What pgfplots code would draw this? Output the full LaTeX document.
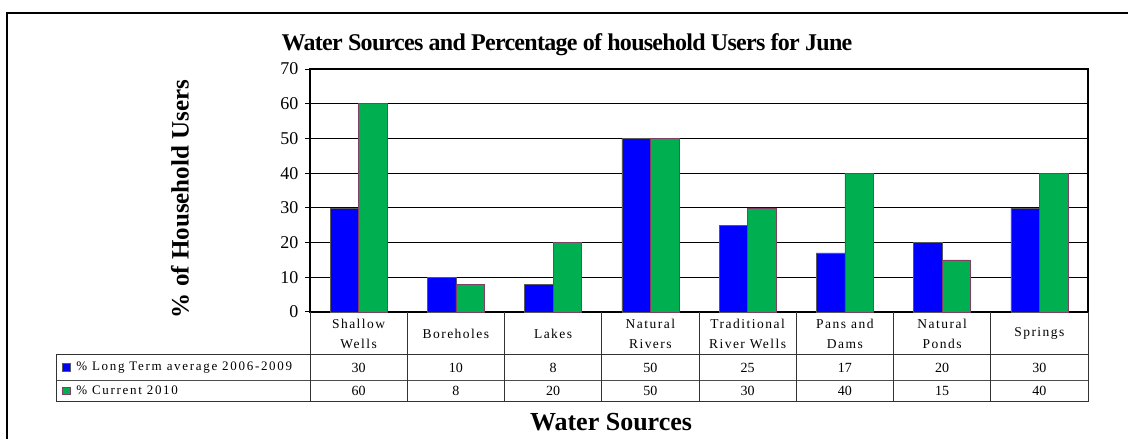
\documentclass[border=0pt]{standalone}
\usepackage{pgfplots}
\pgfplotsset{compat=1.18}
\usepackage{pgfplotstable}
\usepackage{fontspec}
\setmainfont{Liberation Serif}
\newfontfamily\tabfont[LetterSpace=11]{Liberation Serif}
\newfontfamily\legfont[LetterSpace=13]{Liberation Serif}
\newfontfamily\titlefont[LetterSpace=-3]{Liberation Serif}

\definecolor{ltblue}{RGB}{0,0,255}
\definecolor{curgreen}{RGB}{0,176,80}
\definecolor{barline}{RGB}{128,64,100}

\pgfplotsset{sq legend/.style={legend image code/.code={%
    \draw[##1,/tikz/.cd] (0pt,-3.5pt) rectangle (7.5pt,4pt);}}}

% x = category index, lt = % long term average 2006-2009, cur = % current 2010
\pgfplotstableread{
x lt cur
0 30 60
1 10 8
2 8 20
3 50 50
4 25 30
5 17 40
6 20 15
7 30 40
}\water

\begin{document}
\begin{tikzpicture}
\clip (0pt,0pt) rectangle (1128pt,439pt);
\fill[white] (0pt,0pt) rectangle (1128pt,439pt);
% outer chart frame
\draw[line width=1.8pt] (7pt,-20pt) -- (7pt,426pt) -- (1150pt,426pt);

\begin{axis}[
    at={(310pt,127pt)}, anchor=south west,
    scale only axis, width=778pt, height=243pt,
    xmin=-0.5, xmax=7.5, ymin=0, ymax=70,
    xtick={0,...,7},
    xticklabels={Shallow\\Wells, Boreholes, Lakes, Natural\\Rivers,
                 Traditional\\River Wells, Pans and\\Dams, Natural\\Ponds, Springs},
    x tick style={draw=none},
    xticklabel style={anchor=center, yshift=-16.5pt, align=center,
                      font=\tabfont\fontsize{13.5}{20}\selectfont},
    ytick={0,10,...,70},
    ytick pos=left, tick align=outside, major tick length=5pt,
    y tick style={black, line width=1pt},
    yticklabel style={font=\fontsize{18}{18}\selectfont, xshift=-3pt},
    /pgf/number format/assume math mode=true,
    ymajorgrids, grid style={black, line width=1.2pt},
    axis line style={black, line width=1.5pt},
    clip=false,
    legend style={at={(axis description cs:-0.3188,-0.2037)}, anchor=north west,
                  draw=none, fill=none, inner sep=0pt, row sep=11.5pt,
                  font=\legfont\fontsize{13}{14}\selectfont,
                  nodes={inner sep=0pt, text height=9pt, text depth=3pt},
                  /tikz/every odd column/.append style={column sep=6pt}},
    legend cell align=left,
]
\addplot[ybar, bar width=28.5pt, bar shift=-14.25pt, fill=ltblue, draw=gray!70!black,
         line width=0.6pt, sq legend]
    table[x=x, y=lt]{\water};
\addlegendentry{\% Long Term average 2006-2009}
\addplot[ybar, bar width=28.5pt, bar shift=14.25pt, fill=curgreen, draw=barline,
         line width=0.6pt, sq legend]
    table[x=x, y=cur]{\water};
\addlegendentry{\% Current 2010}

% data table values
\addplot[draw=none, mark=none, forget plot, point meta=explicit symbolic, nodes near coords,
         nodes near coords style={anchor=center, yshift=-55.5pt, font=\fontsize{14}{14}\selectfont}]
    table[x=x, y expr=0, meta=lt]{\water};
\addplot[draw=none, mark=none, forget plot, point meta=explicit symbolic, nodes near coords,
         nodes near coords style={anchor=center, yshift=-79pt, font=\fontsize{14}{14}\selectfont}]
    table[x=x, y expr=0, meta=cur]{\water};
\end{axis}

% data table rules
\draw[black!80, line width=1pt] (56pt,84pt) -- (1088pt,84pt);
\draw[black!70, line width=0.8pt] (56pt,59pt) -- (1088pt,59pt);
\draw[black!80, line width=1pt] (56pt,37pt) -- (1088pt,37pt);
\draw[black!80, line width=1pt] (56pt,84pt) -- (56pt,37pt);
\foreach \k in {0,...,8} {
  \draw[black!80, line width=1pt] ({(310+\k*97.25)*1pt},127pt) -- ({(310+\k*97.25)*1pt},37pt);
}

% titles
\node[font=\titlefont\bfseries\fontsize{24}{24}\selectfont] at (567pt,394pt)
    {Water Sources and Percentage of household Users for June};
\node[font=\bfseries\fontsize{25}{25}\selectfont, rotate=90] at (180pt,240pt)
    {\% of Household Users};
\node[font=\bfseries\fontsize{26}{26}\selectfont] at (611pt,17pt)
    {Water Sources};
\end{tikzpicture}
\end{document}
